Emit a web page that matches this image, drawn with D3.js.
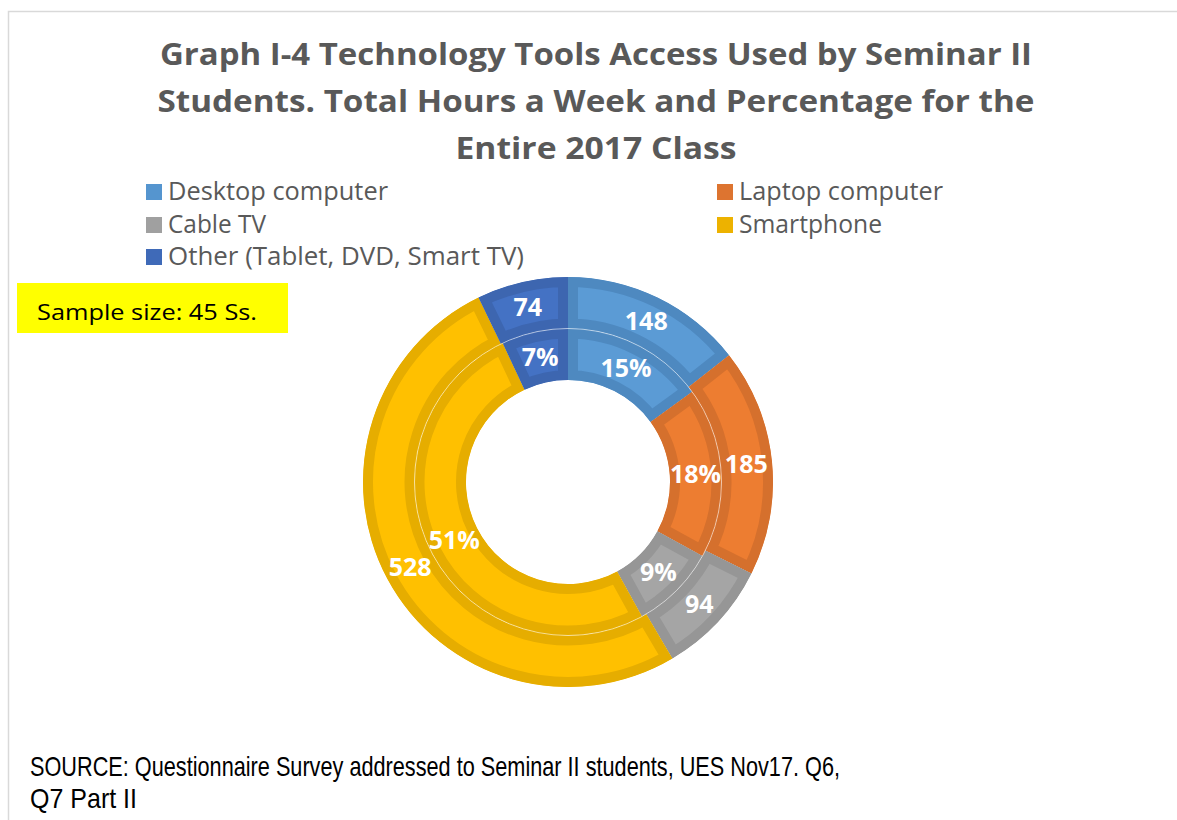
<!DOCTYPE html>
<html>
<head>
<meta charset="utf-8">
<script src="https://cdn.jsdelivr.net/npm/d3@7"></script>
<style>
  html, body { margin: 0; padding: 0; background: #ffffff; }
  svg { display: block; }
</style>
</head>
<body>
<svg id="chart" width="1177" height="820"></svg>
<script>
// Technology tools: weekly hours (outer ring) and share of class (inner ring)
const categories = ["Desktop computer", "Laptop computer", "Cable TV", "Smartphone", "Other (Tablet, DVD, Smart TV)"];
const hours = [148, 185, 94, 528, 74];
const percents = [15, 18, 9, 51, 7];

const titleLines = [
  "Graph I-4 Technology Tools Access Used by Seminar II",
  "Students. Total Hours a Week and Percentage for the",
  "Entire 2017 Class"
];
const sampleNote = "Sample size: 45 Ss.";
const sourceLines = [
  "SOURCE: Questionnaire Survey addressed to Seminar II students, UES Nov17. Q6,",
  "Q7 Part II"
];

// slice colours: body fill and the darker inset rim
const fills = ["#5B9BD5", "#ED7D31", "#A5A5A5", "#FFC000", "#4472C4"];
const rims  = ["#4E89C0", "#D5702D", "#969696", "#E6AD00", "#3D66B0"];
const legendColors = ["#5595CF", "#DD7430", "#A0A0A0", "#EDB200", "#3F6AB8"];

const svg = d3.select("#chart");

// frame around the chart area
svg.append("rect")
  .attr("x", 8.5).attr("y", 11.5)
  .attr("width", 1200).attr("height", 900)
  .attr("fill", "#ffffff")
  .attr("stroke", "#D9D9D9").attr("stroke-width", 1.5);

// title
const titleWidths = [872, 877, 281];
const title = svg.append("g")
  .attr("font-family", "'Open Sans', sans-serif")
  .attr("font-weight", 700)
  .attr("font-size", 30)
  .attr("fill", "#595959")
  .attr("text-anchor", "middle");
titleLines.forEach((t, i) => {
  title.append("text")
    .attr("x", 596)
    .attr("y", 65 + i * 47)
    .attr("textLength", titleWidths[i])
    .attr("lengthAdjust", "spacingAndGlyphs")
    .text(t);
});

// legend, two columns
const legendCols = [146, 717];
const legendRows = [200, 233, 265];
const legendWidths = [220, 204, 98, 143, 356];
const legend = svg.append("g")
  .attr("font-family", "'Open Sans', sans-serif")
  .attr("font-size", 25)
  .attr("fill", "#595959");
categories.forEach((c, i) => {
  const x = legendCols[i % 2];
  const y = legendRows[Math.floor(i / 2)];
  legend.append("rect")
    .attr("x", x).attr("y", y - 16)
    .attr("width", 16).attr("height", 16)
    .attr("fill", legendColors[i]);
  legend.append("text")
    .attr("x", x + 22).attr("y", y)
    .attr("textLength", legendWidths[i])
    .attr("lengthAdjust", "spacingAndGlyphs")
    .text(c);
});

// sample size note
svg.append("rect")
  .attr("x", 17).attr("y", 283)
  .attr("width", 271).attr("height", 50)
  .attr("fill", "#FFFF00");
svg.append("text")
  .attr("x", 37).attr("y", 320)
  .attr("font-family", "'Open Sans', sans-serif")
  .attr("font-size", 22)
  .attr("fill", "#000000")
  .attr("textLength", 220)
  .attr("lengthAdjust", "spacingAndGlyphs")
  .text(sampleNote);

// doughnut
const cx = 568, cy = 482;
const rHole = 102, rMid = 153.5, rOuter = 205;
const rimWidth = 10;

const pie = d3.pie().sort(null).value(d => d);
const outerArc = d3.arc().innerRadius(rMid).outerRadius(rOuter);
const innerArc = d3.arc().innerRadius(rHole).outerRadius(rMid);

const donut = svg.append("g").attr("transform", `translate(${cx},${cy})`);
const defs = svg.append("defs");

// each slice: light body with a darker rim drawn inside its own outline
function drawRing(values, arc, key) {
  const slices = pie(values);
  slices.forEach((s, i) => {
    const d = arc(s);
    defs.append("clipPath").attr("id", `clip-${key}-${i}`)
      .append("path").attr("d", d);
    donut.append("path")
      .attr("d", d)
      .attr("fill", fills[i])
      .attr("stroke", rims[i])
      .attr("stroke-width", rimWidth * 2)
      .attr("clip-path", `url(#clip-${key}-${i})`);
  });
  return slices;
}

const outerSlices = drawRing(hours, outerArc, "o");
const innerSlices = drawRing(percents, innerArc, "i");

// thin light line between the two rings
donut.append("circle")
  .attr("r", rMid)
  .attr("fill", "none")
  .attr("stroke", "#ffffff")
  .attr("stroke-opacity", 0.55)
  .attr("stroke-width", 1);

// data labels, centred in each slice
const labels = donut.append("g")
  .attr("font-family", "'Open Sans', sans-serif")
  .attr("font-weight", 700)
  .attr("font-size", 25)
  .attr("fill", "#ffffff")
  .attr("text-anchor", "middle");
const outerLabelArc = d3.arc().innerRadius((rMid + rOuter) / 2).outerRadius((rMid + rOuter) / 2);
const innerLabelArc = d3.arc().innerRadius((rHole + rMid) / 2).outerRadius((rHole + rMid) / 2);
outerSlices.forEach((s, i) => {
  const [x, y] = outerLabelArc.centroid(s);
  labels.append("text").attr("x", x).attr("y", y).attr("dy", "0.36em").text(hours[i]);
});
innerSlices.forEach((s, i) => {
  const [x, y] = innerLabelArc.centroid(s);
  labels.append("text").attr("x", x).attr("y", y).attr("dy", "0.36em").text(percents[i] + "%");
});

// source note
const sourceWidths = [810, 107];
sourceLines.forEach((t, i) => {
  svg.append("text")
    .attr("x", 30).attr("y", 776 + i * 32)
    .attr("font-family", "'Liberation Sans', Arial, sans-serif")
    .attr("font-size", 28)
    .attr("fill", "#000000")
    .attr("textLength", sourceWidths[i])
    .attr("lengthAdjust", "spacingAndGlyphs")
    .text(t);
});
</script>
</body>
</html>
